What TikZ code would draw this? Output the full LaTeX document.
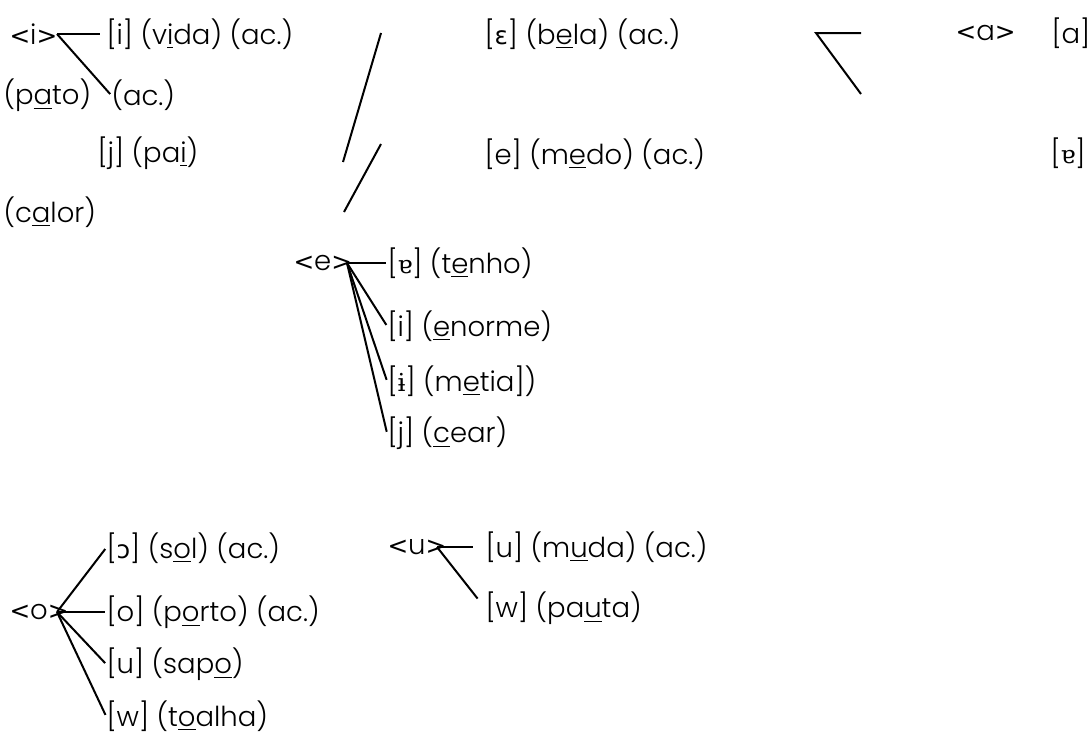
\documentclass[tikz,border=0pt]{standalone}
\usepackage{fontspec}
\setmainfont{Poppins}[UprightFont={* Light}]
\newfontfamily\ipasans[Scale=0.9]{DejaVu Sans}
\newfontfamily\ipaserif[Scale=0.9]{DejaVu Serif}
\newcommand{\uv}[1]{\underline{#1}}
\newcommand{\ips}[1]{{\ipasans #1}}
\newcommand{\ipr}[1]{{\ipaserif #1}}
\newcommand{\graf}[1]{\ips{<}#1\ips{>}}

\begin{document}
\begin{tikzpicture}[
    x=0.4pt, y=-0.4pt,
    seg/.style={anchor=west, inner sep=0pt, font=\fontsize{11}{13}\selectfont},
    link/.style={line width=0.8pt, shorten >=0.5pt},
    stray/.style={line width=0.8pt}
]
\useasboundingbox (0,0) rectangle (1090,733);

% Letter i
\node[seg] (i) at (9,34) {\graf{i}};
\node[seg] (ivida) at (106,34) {[i] (v\uv{i}da) (ac.)};
\node[seg] (pato) at (3,95) {(p\uv{a}to)};
\node[seg] (ipato) at (111,95) {(ac.)};
\node[seg] (jpai) at (97,153) {[j] (pa\uv{i})};
\node[seg] (calor) at (3,212) {(c\uv{a}lor)};
\coordinate (ihub) at (57,34);
\draw[link, shorten >=2.4pt] (ihub) -- (ivida.west);
\draw[link] (ihub) -- (ipato.west);

% Loose strokes
\coordinate (s1a) at (381,33);
\coordinate (s1b) at (343,162);
\coordinate (s2a) at (381,144);
\coordinate (s2b) at (344,212);
\draw[stray] (s1a) -- (s1b);
\draw[stray] (s2a) -- (s2b);

% Middle column
\node[seg] (ebela) at (484,34) {[\ips{ɛ}] (b\uv{e}la) (ac.)};
\node[seg] (emedo) at (484,154) {[e] (m\uv{e}do) (ac.)};

% Letter a
\coordinate (ahub) at (816,33);
\coordinate (aend1) at (861,33);
\coordinate (aend2) at (861,94);
\draw[stray] (aend1) -- (ahub) -- (aend2);
\node[seg] (a) at (955,33) {\graf{a}};
\node[seg] (aa) at (1051,33) {[a]};
\node[seg] (acalor) at (1050,153) {[\ipr{ɐ}]};

% Letter e
\node[seg] (e) at (293,263) {\graf{e}};
\node[seg] (etenho) at (387,263) {[\ipr{ɐ}] (t\uv{e}nho)};
\node[seg] (eenorme) at (387,326) {[i] (\uv{e}norme)};
\node[seg] (emetia) at (387,381) {[\ipr{ɨ}] (m\uv{e}tia])};
\node[seg] (ecear) at (387,433) {[j] (\uv{c}ear)};
\coordinate (ehub) at (347,263);
\foreach \n in {etenho, eenorme, emetia, ecear}
    \draw[link] (ehub) -- (\n.west);

% Letter o
\node[seg] (o) at (9,612) {\graf{o}};
\node[seg] (osol) at (106,548) {[\ips{ɔ}] (s\uv{o}l) (ac.)};
\node[seg] (oporto) at (106,612) {[o] (p\uv{o}rto) (ac.)};
\node[seg] (osapo) at (106,664) {[u] (sap\uv{o})};
\node[seg] (otoalha) at (106,716) {[w] (t\uv{o}alha)};
\coordinate (ohub) at (57,612);
\foreach \n in {osol, oporto, osapo, otoalha}
    \draw[link] (ohub) -- (\n.west);

% Letter u
\node[seg] (u) at (387,547) {\graf{u}};
\node[seg] (umuda) at (485,547) {[u] (m\uv{u}da) (ac.)};
\node[seg] (upauta) at (485,608) {[w] (pa\uv{u}ta)};
\coordinate (uhub) at (437,547);
\draw[link, shorten >=4.8pt] (uhub) -- (umuda.west);
\draw[link, shorten >=4.8pt] (uhub) -- (upauta.west);

\end{tikzpicture}
\end{document}
